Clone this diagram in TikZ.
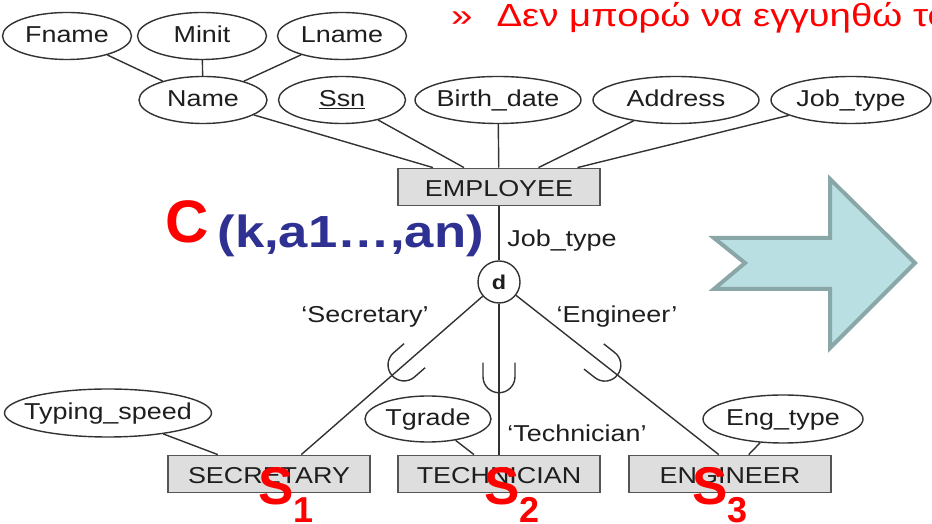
\documentclass[tikz,border=0pt]{standalone}
\usepackage{fontspec}
\setmainfont{Liberation Sans}[FakeStretch=1.17]
\newfontfamily\slidefont{Liberation Sans}
\newfontfamily\titlefont{Liberation Sans}[FakeStretch=1.2]
\usetikzlibrary{shapes.geometric}

\definecolor{slidered}{RGB}{255,0,0}
\definecolor{slideblue}{RGB}{46,49,146}
\definecolor{boxgray}{RGB}{222,222,222}
\definecolor{boxedge}{RGB}{85,85,85}
\definecolor{linegray}{RGB}{50,50,50}
\definecolor{textgray}{RGB}{30,30,30}
\definecolor{arrowfill}{RGB}{185,223,227}
\definecolor{arrowedge}{RGB}{138,167,168}

\newcommand{\erlabel}[1]{\makebox[0pt]{#1}}

\begin{document}
\begin{tikzpicture}[x=1pt, y=1pt,
  attr/.style={ellipse, draw=linegray, line width=1.4pt, fill=white,
    inner sep=0pt, minimum height=47pt, text height=16pt, text depth=2pt,
    font=\fontsize{23}{23}\selectfont, text=textgray},
  entity/.style={rectangle, draw=boxedge, fill=boxgray, line width=1.8pt,
    inner sep=0pt, minimum width=202pt, minimum height=37pt,
    text height=20pt, text depth=0pt,
    font=\fontsize{23}{23}\selectfont, text=textgray},
  disjoint/.style={circle, draw=linegray, line width=1.4pt, fill=white,
    inner sep=0pt, minimum size=42pt,
    font=\bfseries\fontsize{20}{20}\selectfont, text=textgray},
  lbl/.style={anchor=base, inner sep=0pt,
    font=\fontsize{23}{23}\selectfont, text=textgray},
  bigletter/.style={anchor=base west, inner sep=0pt, text=slidered,
    font=\slidefont\bfseries\fontsize{53}{53}\selectfont},
  bigarrow/.style={draw=arrowedge, fill=arrowfill, line width=4pt, line join=miter},
  cup/.pic={\draw (-30,16) -- (-16,16) arc[start angle=90, end angle=-90, radius=16] -- (-30,-16);}
]
\useasboundingbox (0,0) rectangle (932,524);
\clip (0,0) rectangle (932,524);

\node[anchor=base west, inner sep=0pt, text=slidered, font=\titlefont\fontsize{32}{32}\selectfont]
  (title) at (451,497) {»\hspace{24pt}Δεν μπορώ να εγγυηθώ το};

\node[attr, minimum width=129pt] (fname) at (67,488) {\erlabel{Fname}};
\node[attr, minimum width=129pt] (minit) at (202,488) {\erlabel{Minit}};
\node[attr, minimum width=129pt] (lname) at (342,488) {\erlabel{Lname}};
\node[attr, minimum width=128pt] (name) at (203,424) {\erlabel{Name}};
\node[attr, minimum width=127pt] (ssn) at (342,424) {\erlabel{\underline{Ssn}}};
\node[attr, minimum width=166pt] (bdate) at (498,424) {\erlabel{Birth\_date}};
\node[attr, minimum width=166pt] (addr) at (676,424) {\erlabel{Address}};
\node[attr, minimum width=160pt] (jtype) at (851,424) {\erlabel{Job\_type}};

\node[entity] (emp) at (499,337) {EMPLOYEE};
\node[disjoint] (disj) at (499,242) {d};
\node[lbl] (jtlbl) at (562,277) {Job\_type};

\node[lbl] (seclbl) at (365,201) {‘Secretary’};
\node[lbl] (englbl) at (617,201) {‘Engineer’};
\node[lbl] (techlbl) at (577,82) {‘Technician’};

\node[attr, minimum width=207pt, minimum height=48pt] (typing) at (108,111) {\erlabel{Typing\_speed}};
\node[attr, minimum width=126pt, minimum height=46pt] (tgrade) at (428,105) {\erlabel{Tgrade}};
\node[attr, minimum width=160pt, minimum height=48pt] (engtype) at (783,105) {\erlabel{Eng\_type}};

\node[entity] (sec) at (269,50) {SECRETARY};
\node[entity] (tech) at (499,50) {TECHNICIAN};
\node[entity] (eng) at (730,50) {ENGINEER};

\begin{scope}[line width=1.4pt, color=linegray]
  \draw (fname) -- (name);
  \draw (minit) -- (name);
  \draw (lname) -- (name);
  \foreach \a in {name,ssn,bdate,addr,jtype}
    \draw (\a) -- (emp);
  \draw (emp) -- (disj);
  \draw (disj) -- (sec.31) pic[pos=0.5, sloped, allow upside down] {cup};
  \draw (disj) -- (tech) pic[pos=0.59, sloped, allow upside down] {cup};
  \draw (disj) -- (eng.120) pic[pos=0.5, sloped, allow upside down] {cup};
  \draw (typing) -- (sec);
  \draw (tgrade) -- (tech);
  \draw (engtype) -- (eng);
\end{scope}

\draw[bigarrow] (714,286) -- (745,261) -- (714,235) -- (830,235) -- (830,176)
  -- (915,261) -- (830,345) -- (830,286) -- cycle;

\node[anchor=base west, inner sep=0pt, font=\bfseries] (cterm) at (165,281)
  {{\slidefont\color{slidered}\fontsize{60}{60}\selectfont C}\hspace{9pt}%
   {\color{slideblue}\fontsize{45}{45}\selectfont\raisebox{-5pt}{(k,a1…,an)}}};

\node[bigletter] (s1) at (258,19) {S\raisebox{-18pt}{\fontsize{36}{36}\selectfont 1}};
\node[bigletter] (s2) at (484,19) {S\raisebox{-18pt}{\fontsize{36}{36}\selectfont 2}};
\node[bigletter] (s3) at (692,19) {S\raisebox{-18pt}{\fontsize{36}{36}\selectfont 3}};

\end{tikzpicture}
\end{document}
